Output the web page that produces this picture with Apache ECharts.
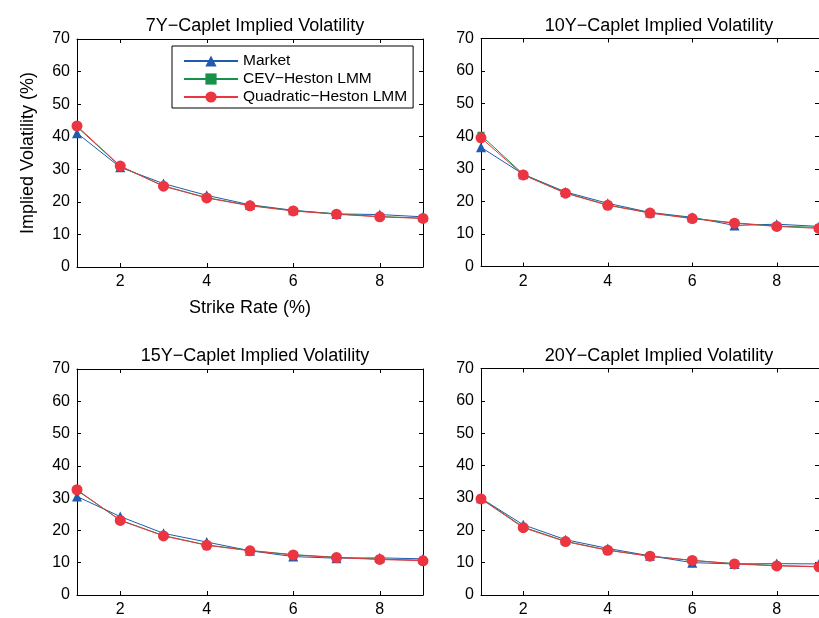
<!DOCTYPE html>
<html>
<head>
<meta charset="utf-8">
<script src="https://cdn.jsdelivr.net/npm/echarts@6/dist/echarts.min.js"></script>
<style>html,body{margin:0;padding:0;background:#fff}#c{width:819px;height:618px}</style>
</head>
<body>
<div id="c"></div>
<script>
var strikes = [1, 2, 3, 4, 5, 6, 7, 8, 9];
var xTicks = [2, 4, 6, 8];
var titles = ['7Y\u2212Caplet Implied Volatility', '10Y\u2212Caplet Implied Volatility', '15Y\u2212Caplet Implied Volatility', '20Y\u2212Caplet Implied Volatility'];
var seriesNames = ['Market', 'CEV\u2212Heston LMM', 'Quadratic\u2212Heston LMM'];

var market7  = [41.1, 30.6, 25.6, 22.0, 19.1, 17.4, 16.3, 16.1, 15.4];
var cev7     = [43.0, 30.9, 24.9, 21.3, 18.9, 17.3, 16.3, 15.5, 15.0];
var quad7    = [43.3, 31.0, 24.8, 21.2, 18.8, 17.2, 16.2, 15.4, 14.9];

var market10 = [36.6, 28.3, 22.9, 19.4, 16.6, 15.1, 12.6, 13.0, 12.3];
var cev10    = [40.3, 28.3, 22.6, 18.9, 16.5, 14.8, 13.4, 12.4, 12.0];
var quad10   = [39.5, 28.1, 22.5, 18.8, 16.4, 14.7, 13.3, 12.3, 11.7];

var market15 = [30.5, 24.3, 19.1, 16.4, 13.7, 11.9, 11.4, 11.5, 11.2];
var cev15    = [32.4, 23.2, 18.4, 15.5, 13.8, 12.5, 11.7, 11.1, 10.8];
var quad15   = [32.6, 23.1, 18.3, 15.4, 13.7, 12.4, 11.6, 11.0, 10.6];

var market20 = [29.9, 21.7, 17.1, 14.4, 12.1, 10.0, 9.6, 9.7, 9.6];
var cev20    = [29.9, 21.0, 16.6, 13.9, 12.0, 10.7, 9.7, 9.1, 8.8];
var quad20   = [29.7, 20.8, 16.5, 13.8, 12.0, 10.7, 9.6, 9.0, 8.7];

var yMin = 0, yMax = 70, yInterval = 10;

var panels = [
  [market7, cev7, quad7],
  [market10, cev10, quad10],
  [market15, cev15, quad15],
  [market20, cev20, quad20]
];

var FONT = 'Liberation Sans';
var grids = [
  {left: 77, top: 39, width: 346, height: 228},
  {left: 481, top: 38.5, width: 346, height: 228},
  {left: 77, top: 369, width: 346, height: 228},
  {left: 481, top: 368.5, width: 346, height: 228}
];
var titleY = [12, 12, 342, 342];

var colors = ['#1f5cb0', '#17904a', '#eb3540'];
var symbols = ['triangle', 'rect', 'circle'];
var symSizes = [10, 7, 11];

function pairs(v) { return strikes.map(function (s, i) { return [s, v[i]]; }); }

var xAxes = [], yAxes = [], series = [], title = [];
grids.forEach(function (g, k) {
  var common = {gridIndex: k, type: 'value', min: 1, max: 9,
    splitLine: {show: false},
    axisLine: {show: true, onZero: false, lineStyle: {color: '#000', width: 1}},
    axisTick: {show: true, inside: true, length: 4, customValues: xTicks, lineStyle: {color: '#000'}}};
  var bottom = Object.assign({}, common, {position: 'bottom',
    axisLabel: {customValues: xTicks, color: '#000', fontFamily: FONT, fontSize: 16, margin: 7}});
  if (k === 0) {
    bottom.name = 'Strike Rate (%)';
    bottom.nameLocation = 'middle';
    bottom.nameGap = 32;
    bottom.nameTextStyle = {color: '#000', fontFamily: FONT, fontSize: 18};
  }
  xAxes.push(bottom);
  xAxes.push(Object.assign({}, common, {position: 'top', axisLabel: {show: false}}));
  var ycommon = {gridIndex: k, type: 'value', min: yMin, max: yMax, interval: yInterval,
    splitLine: {show: false},
    axisLine: {show: true, onZero: false, lineStyle: {color: '#000', width: 1}},
    axisTick: {show: true, inside: true, length: 4, lineStyle: {color: '#000'}}};
  var left = Object.assign({}, ycommon, {position: 'left',
    axisLabel: {color: '#000', fontFamily: FONT, fontSize: 16, margin: 7}});
  if (k === 0) {
    left.name = 'Implied Volatility (%)';
    left.nameLocation = 'middle';
    left.nameGap = 40;
    left.nameTextStyle = {color: '#000', fontFamily: FONT, fontSize: 18};
  }
  yAxes.push(left);
  yAxes.push(Object.assign({}, ycommon, {position: 'right', axisLabel: {show: false}}));
  title.push({text: titles[k], left: g.left + g.width / 2, top: titleY[k], textAlign: 'center',
    textStyle: {color: '#000', fontFamily: FONT, fontSize: 18, fontWeight: 'normal'}});
  panels[k].forEach(function (vals, j) {
    series.push({
      name: seriesNames[j], type: 'line', xAxisIndex: 2 * k, yAxisIndex: 2 * k,
      data: pairs(vals), symbol: symbols[j], symbolSize: symSizes[j],
      showSymbol: true, animation: false, clip: false,
      lineStyle: {color: colors[j], width: 1},
      itemStyle: {color: colors[j]},
      z: 2 + j
    });
  });
});

var chart = echarts.init(document.getElementById('c'), null, {renderer: 'canvas'});
chart.setOption({
  backgroundColor: '#fff',
  animation: false,
  title: title,
  grid: grids,
  xAxis: xAxes,
  yAxis: yAxes,
  legend: {
    data: seriesNames, orient: 'vertical', left: 172, top: 46,
    padding: [7, 6, 3, 11], itemGap: 2, itemWidth: 54, itemHeight: 14,
    borderColor: '#000', borderWidth: 1, backgroundColor: '#fff',
    textStyle: {color: '#000', fontFamily: FONT, fontSize: 15.5}
  },
  series: series
});
</script>
</body>
</html>
